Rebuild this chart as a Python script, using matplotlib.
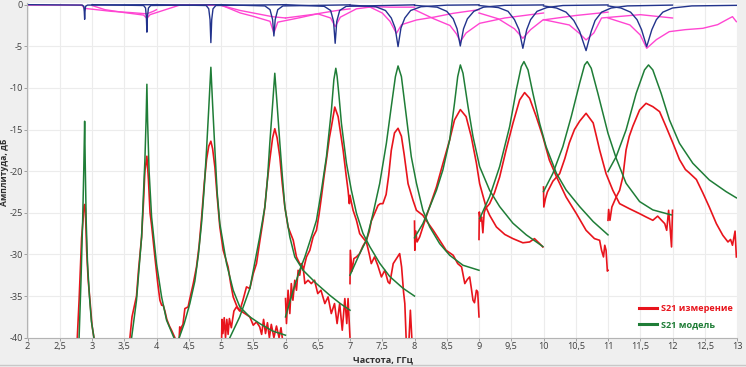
import numpy as np
import matplotlib.pyplot as plt
from matplotlib.ticker import MultipleLocator, FuncFormatter
from matplotlib.lines import Line2D

plt.rcParams['font.family'] = ['Open Sans', 'DejaVu Sans']
plt.rcParams['axes.unicode_minus'] = False

# S21 измерение: окна по 2 ГГц, (частота ГГц, дБ)
s21_meas_1 = [(2.772, -40), (2.80, -35.5), (2.839, -28), (2.865, -25.5), (2.876, -24.2), (2.886, -24),
              (2.896, -24.5), (2.905, -26.5), (2.917, -29.5), (2.94, -33), (2.968, -35.5), (3.0, -38.5), (3.03, -40)]
s21_meas_2 = [(3.588, -40), (3.62, -37.5), (3.69, -35), (3.72, -32), (3.769, -27.9), (3.80, -23.5), (3.82, -20),
              (3.851, -18.2), (3.875, -21), (3.90, -25), (3.924, -26.5), (3.975, -30.3), (4.02, -33.5),
              (4.053, -35.5), (4.08, -36.1), (4.104, -36.1), (4.13, -36.8), (4.16, -37.8), (4.2, -38.6),
              (4.233, -39.1), (4.285, -40)]
s21_meas_3 = [(4.352, -40), (4.36, -38.7), (4.375, -39.3), (4.388, -38.7), (4.41, -38.4), (4.44, -36.5),
              (4.49, -36.3), (4.52, -35.2), (4.57, -33.5), (4.62, -31.5), (4.66, -29), (4.70, -25.5),
              (4.74, -21.5), (4.776, -18.6), (4.81, -17), (4.843, -16.4), (4.87, -17.3), (4.905, -19.5),
              (4.94, -23), (4.982, -26.7), (5.034, -29.5), (5.11, -31.5), (5.15, -33.5), (5.189, -35.1),
              (5.25, -36.3), (5.29, -36.7), (5.37, -37.1), (5.447, -37.5), (5.5, -38.5), (5.55, -38.1),
              (5.6, -38.7), (5.63, -39.6), (5.66, -37.8), (5.69, -39.5), (5.72, -38.2), (5.75, -40),
              (5.78, -38.4), (5.82, -40), (5.86, -38.6), (5.9, -40), (5.93, -38.8), (5.95, -40)]
s21_meas_4 = [(5.01, -40), (5.015, -37.8), (5.03, -39.5), (5.05, -37.6), (5.07, -40), (5.09, -37.8),
              (5.11, -39.6), (5.13, -37.7), (5.16, -38.8), (5.2, -36.8), (5.24, -36.3), (5.29, -36.8),
              (5.34, -35.5), (5.395, -33.9), (5.447, -34.1), (5.5, -32.3), (5.55, -31.1), (5.6, -28.5),
              (5.65, -26), (5.68, -24.3), (5.72, -21), (5.757, -18.6), (5.80, -16), (5.834, -14.9),
              (5.87, -16), (5.912, -18.3), (5.95, -21.5), (5.99, -24.3), (6.04, -26.7), (6.12, -28.3),
              (6.17, -30.3), (6.22, -31.1), (6.273, -31.5), (6.3, -33.5), (6.35, -33.1), (6.4, -33.5),
              (6.45, -33.1), (6.5, -34.7), (6.55, -34.3), (6.61, -35.9), (6.66, -35.1), (6.71, -37.1),
              (6.76, -35.9), (6.8, -38.3), (6.84, -35.9), (6.88, -39.1), (6.92, -35.3), (6.95, -38.3),
              (6.97, -35.3), (7.0, -40)]
s21_meas_5 = [(6.0, -35.3), (6.015, -38.3), (6.04, -34.3), (6.067, -37.1), (6.09, -33.5), (6.115, -35.5),
              (6.144, -33.1), (6.17, -34.3), (6.196, -31.9), (6.22, -32.5), (6.247, -31.1), (6.275, -31.9),
              (6.325, -30.3), (6.377, -29.5), (6.428, -27.9), (6.48, -27.1), (6.52, -25.2), (6.557, -23.1),
              (6.6, -20.5), (6.635, -18.6), (6.68, -16), (6.712, -14.65), (6.764, -12.3), (6.816, -13.45),
              (6.855, -15.5), (6.893, -17.45), (6.94, -20.5), (6.97, -22.3), (6.99, -23.9), (7.0, -22.9),
              (7.02, -23.7), (7.048, -24.7), (7.1, -25.9), (7.15, -27.5), (7.2, -28), (7.254, -28.5),
              (7.3, -30), (7.33, -31.1), (7.38, -30.3), (7.43, -31.3), (7.487, -32.7), (7.54, -31.9),
              (7.59, -33.3), (7.616, -33.5), (7.67, -31.1), (7.72, -30.5), (7.77, -29.9), (7.80, -31.5),
              (7.83, -34.5), (7.85, -35.9), (7.875, -41), (7.91, -41), (7.936, -36.7), (7.965, -41)]
s21_meas_6 = [(7.0, -33.5), (7.005, -29.5), (7.03, -32), (7.06, -30.5), (7.1, -30.3), (7.15, -29.9),
              (7.2, -29), (7.254, -28.3), (7.3, -27.2), (7.33, -26), (7.38, -25.1), (7.435, -24.1),
              (7.47, -23.9), (7.51, -23.9), (7.56, -22.8), (7.6, -20.5), (7.64, -17.5), (7.69, -15.4),
              (7.745, -14.85), (7.797, -15.8), (7.84, -18), (7.9, -21.5), (7.977, -23.5), (8.03, -24.7),
              (8.13, -25.3), (8.18, -25.9), (8.29, -27.1), (8.39, -28.3), (8.49, -29.5), (8.6, -30.1),
              (8.67, -31.1), (8.73, -31.5), (8.78, -33.5), (8.82, -33), (8.855, -32.7), (8.88, -34),
              (8.907, -35.5), (8.93, -35.8), (8.96, -34.3), (8.98, -34.5), (9.0, -37.5)]
s21_meas_7 = [(8.0, -26), (8.005, -29.5), (8.02, -27.2), (8.04, -28.5), (8.08, -27.9), (8.13, -26.7),
              (8.18, -25.5), (8.26, -23.7), (8.34, -21.9), (8.44, -19.1), (8.545, -16.25), (8.62, -13.85),
              (8.711, -12.6), (8.8, -13.45), (8.88, -15.85), (8.96, -19.05), (9.01, -21.5), (9.113, -24.4),
              (9.165, -25.3), (9.27, -26.7), (9.4, -27.6), (9.526, -28.1), (9.68, -28.6), (9.785, -28.5),
              (9.86, -28.1), (9.94, -28.7), (9.99, -29.1)]
s21_meas_8 = [(9.0, -28.2), (9.005, -24.9), (9.02, -26), (9.04, -25.5), (9.06, -27.4), (9.08, -25),
              (9.1, -24.5), (9.165, -23.9), (9.24, -22.6), (9.32, -20.7), (9.42, -17.45), (9.526, -14.25),
              (9.63, -11.45), (9.707, -10.56), (9.785, -11.25), (9.888, -13.45), (9.99, -15.85),
              (10.09, -18.65), (10.2, -20.65), (10.35, -23.1), (10.51, -25.1), (10.66, -27.1),
              (10.79, -28.1), (10.87, -28.3), (10.9, -29.5), (10.93, -30.3), (10.95, -28.9), (10.97, -29.5),
              (10.99, -32), (11.0, -31.9)]
s21_meas_9 = [(10.0, -21.9), (10.005, -24.3), (10.03, -23.3), (10.06, -22.5), (10.1, -21.9), (10.146, -21.2),
              (10.25, -20.3), (10.33, -18.5), (10.4, -16.6), (10.48, -15), (10.56, -14.0), (10.66, -13.05),
              (10.77, -14.2), (10.82, -15.8), (10.87, -17.45), (10.97, -20.3), (11.075, -22.3),
              (11.18, -23.9), (11.33, -24.5), (11.49, -25.1), (11.59, -25.5), (11.695, -25.9),
              (11.77, -25.4), (11.83, -25.9), (11.88, -26.3), (11.91, -27.1), (11.94, -24.7),
              (11.96, -26.5), (11.985, -29.1), (12.0, -24.7)]
s21_meas_10 = [(11.0, -25.9), (11.01, -24.6), (11.03, -25.9), (11.06, -24.3), (11.127, -23.1), (11.18, -22.3),
               (11.23, -20.7), (11.28, -17.45), (11.33, -15.8), (11.385, -14.6), (11.49, -12.65),
               (11.59, -11.85), (11.695, -12.25), (11.8, -12.85), (11.9, -14.65), (12.005, -16.6),
               (12.108, -18.6), (12.2, -19.8), (12.26, -20.2), (12.37, -21.0), (12.47, -22.6),
               (12.57, -24.3), (12.68, -26.3), (12.78, -27.7), (12.86, -28.5), (12.9, -28.2),
               (12.93, -28.9), (12.97, -27.2), (12.99, -30.3)]

# S21 модель
s21_model_1 = [(2.80, -40), (2.83, -33), (2.855, -26), (2.872, -20), (2.886, -14.0), (2.895, -19),
               (2.91, -26), (2.93, -31), (2.96, -35), (2.99, -38), (3.03, -40)]
s21_model_2 = [(3.614, -40), (3.69, -35.5), (3.769, -27.9), (3.82, -18.7), (3.838, -14), (3.851, -9.56),
               (3.862, -14), (3.885, -20), (3.924, -25.5), (4.0, -31.1), (4.079, -35.1), (4.156, -37.9),
               (4.27, -40)]
s21_model_3 = [(4.352, -40), (4.43, -38.3), (4.517, -35.9), (4.595, -33.2), (4.65, -30), (4.698, -26.3),
               (4.74, -22), (4.776, -17.4), (4.81, -12.5), (4.843, -7.52), (4.87, -12), (4.905, -17.4),
               (4.94, -22.5), (4.982, -26.3), (5.086, -31.1), (5.189, -34.3), (5.292, -36.3),
               (5.447, -37.5), (5.6, -38.3), (5.8, -39.2), (6.0, -39.7)]
s21_model_4 = [(5.137, -40), (5.29, -37.5), (5.447, -34.1), (5.6, -27.9), (5.68, -24.3), (5.72, -21),
               (5.757, -16.6), (5.80, -12), (5.834, -8.24), (5.87, -12), (5.912, -16.6), (5.95, -20.5),
               (5.99, -24.3), (6.067, -27.9), (6.144, -30.3), (6.273, -31.9), (6.48, -33.5),
               (6.686, -34.9), (6.85, -35.9), (7.0, -36.7)]
s21_model_5 = [(6.0, -37.5), (6.12, -34.3), (6.22, -31.9), (6.3, -30.3), (6.4, -27.9), (6.48, -25.9),
               (6.557, -22.3), (6.635, -18.25), (6.712, -12.65), (6.75, -9), (6.78, -7.64), (6.80, -8.6),
               (6.83, -11), (6.867, -14.25), (6.945, -19.05), (7.02, -22.25), (7.1, -25.05), (7.2, -27.45),
               (7.306, -29.05), (7.46, -31.05), (7.616, -32.65), (7.82, -34.05), (8.0, -35.0)]
s21_model_6 = [(7.0, -32.5), (7.15, -29.9), (7.254, -28.3), (7.357, -25.1), (7.46, -21.5), (7.564, -16.65),
               (7.64, -12.25), (7.704, -8.64), (7.745, -7.36), (7.797, -8.64), (7.874, -13.45),
               (7.95, -18.25), (8.03, -21.45), (8.13, -24.7), (8.236, -26.7), (8.39, -28.7),
               (8.545, -30.1), (8.752, -31.3), (9.0, -31.9)]
s21_model_7 = [(8.0, -28.0), (8.13, -26.3), (8.236, -24.3), (8.34, -22.3), (8.44, -19.85), (8.545, -16.25),
               (8.62, -11.85), (8.67, -8.64), (8.711, -7.24), (8.752, -8.24), (8.83, -12.25),
               (8.907, -15.85), (9.01, -19.45), (9.165, -22.3), (9.32, -24.25), (9.526, -26.25),
               (9.733, -27.65), (9.99, -29.05)]
s21_model_8 = [(9.01, -25.7), (9.165, -23.05), (9.32, -19.45), (9.475, -14.65), (9.578, -10.25),
               (9.655, -7.44), (9.697, -6.84), (9.76, -7.84), (9.836, -10.65), (9.94, -14.25),
               (10.04, -17.05), (10.2, -20.25), (10.35, -22.25), (10.56, -24.25), (10.77, -26.05),
               (11.0, -27.65)]
s21_model_9 = [(10.0, -22.45), (10.146, -20.25), (10.3, -17.05), (10.43, -13.45), (10.56, -9.44),
               (10.637, -7.24), (10.678, -6.84), (10.74, -7.64), (10.843, -10.65), (11.0, -15.45),
               (11.127, -18.45), (11.28, -21.45), (11.49, -23.65), (11.695, -24.65), (11.98, -25.25)]
s21_model_10 = [(11.0, -20.05), (11.127, -18.25), (11.28, -15.05), (11.437, -10.65), (11.566, -7.84),
                (11.628, -7.24), (11.695, -7.84), (11.824, -10.65), (11.953, -13.85), (12.108, -16.65),
                (12.315, -19.05), (12.57, -21.05), (12.83, -22.45), (12.99, -23.2)]

# S11 измерение (розовые)
s11_meas_1 = [(2.0, -0.05), (2.84, -0.05), (2.886, -0.45), (2.95, -0.5), (3.3, -0.8), (3.6, -0.95),
              (3.85, -1.1), (3.95, -0.8), (4.0, -0.6)]
s11_meas_2 = [(3.0, -0.1), (3.2, -0.6), (3.5, -0.95), (3.8, -1.25), (3.851, -1.65), (3.9, -1.2),
              (4.1, -0.7), (4.36, -0.05), (5.0, -0.02)]
s11_meas_3 = [(4.0, -0.05), (4.8, -0.05), (4.98, -0.05), (5.3, -0.7), (5.5, -1.0), (5.8, -1.45), (6.0, -1.6)]
s11_meas_4 = [(5.0, -0.05), (5.3, -1.0), (5.5, -1.4), (5.76, -2.0), (5.82, -3.4), (5.88, -2.1),
              (6.2, -1.6), (6.53, -1.04), (6.8, -0.7), (7.0, -0.5)]
s11_meas_5 = [(6.0, -1.6), (6.3, -1.3), (6.5, -1.1), (6.7, -1.6), (6.77, -2.64), (6.85, -1.5),
              (7.1, -0.5), (7.36, -0.24), (7.6, -0.3), (8.0, -0.3)]
s11_meas_6 = [(7.0, -0.1), (7.3, -0.25), (7.5, -1.0), (7.62, -2.0), (7.72, -3.44), (7.8, -2.4),
              (8.03, -1.84), (8.3, -1.5), (8.6, -1.04), (9.0, -0.6)]
s11_meas_7 = [(8.0, -0.6), (8.3, -1.7), (8.55, -2.5), (8.65, -3.5), (8.71, -4.44), (8.8, -3.4),
              (9.01, -2.24), (9.4, -1.6), (10.0, -1.0)]
s11_meas_8 = [(9.0, -1.0), (9.3, -1.7), (9.55, -2.9), (9.68, -4.04), (9.8, -3.0), (9.99, -1.84),
              (10.5, -1.3), (11.0, -0.9)]
s11_meas_9 = [(10.0, -1.8), (10.4, -2.44), (10.55, -3.4), (10.66, -4.24), (10.78, -3.4), (10.9, -1.6),
              (11.5, -1.2), (12.0, -1.6)]
s11_meas_10 = [(11.0, -1.6), (11.34, -2.44), (11.5, -3.64), (11.6, -5.24), (11.75, -4.2), (11.95, -3.24),
               (12.2, -3.0), (12.47, -2.84), (12.7, -2.4), (12.88, -1.64), (12.93, -1.44), (12.99, -2.04)]

# S11 модель (синие)
s11_model_1 = [(2.0, 0), (2.85, -0.05), (2.872, -0.2), (2.88, -0.8), (2.886, -1.76), (2.892, -0.8),
               (2.9, -0.2), (2.93, -0.05), (4.0, 0)]
s11_model_2 = [(3.0, 0), (3.80, -0.1), (3.83, -0.4), (3.843, -1.5), (3.851, -3.3), (3.859, -1.5),
               (3.875, -0.4), (3.91, -0.1), (5.0, 0)]
s11_model_3 = [(4.0, 0), (4.77, -0.1), (4.81, -0.5), (4.83, -1.8), (4.843, -4.56), (4.856, -1.8),
               (4.876, -0.5), (4.92, -0.1), (6.0, 0)]
s11_model_4 = [(5.0, 0), (5.68, -0.15), (5.76, -0.6), (5.80, -1.8), (5.82, -3.76), (5.84, -1.8),
               (5.88, -0.6), (5.96, -0.15), (7.0, -0.02)]
s11_model_5 = [(6.0, 0), (6.6, -0.2), (6.70, -0.7), (6.745, -2.0), (6.77, -4.64), (6.795, -2.0),
               (6.84, -0.7), (6.94, -0.2), (8.0, -0.02)]
s11_model_6 = [(7.0, -0.05), (7.4, -0.25), (7.55, -0.7), (7.64, -1.6), (7.70, -2.8), (7.745, -5.04),
               (7.79, -2.8), (7.85, -1.6), (7.94, -0.7), (8.1, -0.25), (8.5, -0.06), (9.0, -0.02)]
s11_model_7 = [(8.0, -0.08), (8.35, -0.3), (8.5, -0.8), (8.6, -1.7), (8.66, -2.9), (8.71, -4.96),
               (8.76, -2.9), (8.82, -1.7), (8.92, -0.8), (9.07, -0.3), (9.4, -0.08), (10.0, -0.03)]
s11_model_8 = [(9.0, -0.1), (9.3, -0.35), (9.45, -0.8), (9.55, -1.8), (9.62, -3.0), (9.68, -5.24),
               (9.74, -3.0), (9.8, -1.8), (9.9, -0.8), (10.05, -0.35), (10.3, -0.1), (11.0, -0.03)]
s11_model_9 = [(10.0, -0.15), (10.2, -0.4), (10.35, -0.9), (10.47, -1.9), (10.56, -3.2), (10.66, -5.52),
               (10.74, -3.2), (10.8, -1.9), (10.9, -0.9), (11.05, -0.4), (11.3, -0.15), (12.0, -0.05)]
s11_model_10 = [(11.0, -0.15), (11.2, -0.4), (11.35, -0.9), (11.45, -1.8), (11.52, -3.0), (11.6, -5.04),
                (11.68, -3.0), (11.75, -1.8), (11.85, -0.9), (12.0, -0.4), (12.3, -0.15), (13.0, -0.08)]

s21_meas = [s21_meas_1, s21_meas_2, s21_meas_3, s21_meas_4, s21_meas_5,
            s21_meas_6, s21_meas_7, s21_meas_8, s21_meas_9, s21_meas_10]
s21_model = [s21_model_1, s21_model_2, s21_model_3, s21_model_4, s21_model_5,
             s21_model_6, s21_model_7, s21_model_8, s21_model_9, s21_model_10]
s11_meas = [s11_meas_1, s11_meas_2, s11_meas_3, s11_meas_4, s11_meas_5,
            s11_meas_6, s11_meas_7, s11_meas_8, s11_meas_9, s11_meas_10]
s11_model = [s11_model_1, s11_model_2, s11_model_3, s11_model_4, s11_model_5,
             s11_model_6, s11_model_7, s11_model_8, s11_model_9, s11_model_10]

RED = '#e8141c'
GREEN = '#1f7d37'
NAVY = '#22338c'
PINK = '#ff45d2'

fig = plt.figure(figsize=(7.46, 3.67), dpi=100, facecolor='#efefef')
ax = fig.add_axes([27.5 / 746, 29.3 / 367, (737 - 27.5) / 746, (337.7 - 3.0) / 367])
ax.set_facecolor('white')

for seg in s11_meas:
    f, db = np.array(seg).T
    ax.plot(f, db, color=PINK, lw=1.0)
for seg in s11_model:
    f, db = np.array(seg).T
    ax.plot(f, db, color=NAVY, lw=1.0)
for seg in s21_meas:
    f, db = np.array(seg).T
    ax.plot(f, db, color=RED, lw=1.2)
for seg in s21_model:
    f, db = np.array(seg).T
    ax.plot(f, db, color=GREEN, lw=1.1)

ax.set_xlim(2, 13)
ax.set_ylim(-40, 0.2)
ax.xaxis.set_major_locator(MultipleLocator(0.5))
ax.yaxis.set_major_locator(MultipleLocator(5))
comma = FuncFormatter(lambda v, p: ('%g' % v).replace('.', ','))
ax.xaxis.set_major_formatter(comma)
ax.yaxis.set_major_formatter(comma)
ax.grid(True, color='#ececec', lw=0.8)
ax.set_axisbelow(True)
for s in ['top', 'right']:
    ax.spines[s].set_visible(False)
for s in ['left', 'bottom']:
    ax.spines[s].set_color('#b4b4b4')
    ax.spines[s].set_linewidth(0.8)
ax.tick_params(labelsize=6.6, colors='#404040', length=2.2, width=0.7, pad=1.2)
ax.tick_params(axis='both', color='#a0a0a0')

fig.text(383 / 746, 1 - 359.5 / 367, 'Частота, ГГц', ha='center', va='center',
         fontsize=6.6, fontweight='bold', color='#303030')
fig.text(4.5 / 746, 1 - 172 / 367, 'Амплитуда, дБ', ha='center', va='center', rotation=90,
         fontsize=6.2, fontweight='bold', color='#303030')

handles = [Line2D([], [], color=RED, lw=2.2), Line2D([], [], color=GREEN, lw=2.2)]
leg = ax.legend(handles, ['S21 измерение', 'S21 модель'], loc='lower right',
                bbox_to_anchor=(1.0, 0.015), frameon=False, handlelength=1.9,
                handletextpad=0.5, labelspacing=0.75, borderaxespad=0,
                prop={'size': 6.6, 'weight': 'bold'})
for txt, c in zip(leg.get_texts(), [RED, GREEN]):
    txt.set_color(c)

fig.add_artist(Line2D([0, 1], [2.5 / 367, 2.5 / 367], color='#c8c8c8', lw=1))

fig.savefig('out.png', dpi=100, facecolor=fig.get_facecolor())
